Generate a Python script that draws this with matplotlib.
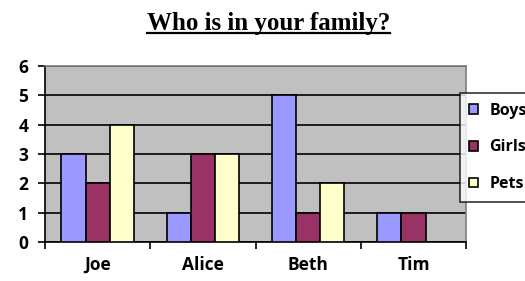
import numpy as np
import matplotlib.pyplot as plt
from matplotlib.lines import Line2D

# Data
categories = ["Joe", "Alice", "Beth", "Tim"]
boys = [3, 1, 5, 1]
girls = [2, 3, 1, 1]
pets = [4, 3, 2, 0]
series_names = ["Boys", "Girls", "Pets"]
series_colors = ["#9999FF", "#993366", "#FFFFCC"]

fig = plt.figure(figsize=(5.25, 2.81), dpi=100)
ax = fig.add_axes([0.0857, 0.1388, 0.802, 0.626])
ax.set_facecolor("#C0C0C0")

x = np.arange(len(categories))
w = 0.23
for i, (vals, name, col) in enumerate(zip([boys, girls, pets], series_names, series_colors)):
    ax.bar(x + (i - 1) * w, vals, width=w, color=col, edgecolor="black",
           linewidth=1.2, label=name, zorder=3)

ax.set_xlim(-0.5, 3.5)
ax.set_ylim(0, 6)
ax.set_yticks(range(7))
ax.yaxis.grid(True, color="black", linewidth=1.2, zorder=1)
ax.set_axisbelow(True)

# x ticks at category boundaries, labels at centres
ax.set_xticks(np.arange(-0.5, 4.0, 1.0))
ax.set_xticklabels([])
ax.set_xticks(x, minor=True)
ax.set_xticklabels(categories, minor=True)
ax.tick_params(axis="x", which="minor", length=0, pad=10)
ax.tick_params(axis="x", which="major", length=5, width=1.2, direction="out")
ax.tick_params(axis="y", length=5, width=1.2, direction="out", pad=7)
for lab in ax.get_xticklabels(minor=True) + ax.get_yticklabels():
    lab.set_fontfamily("Open Sans")
    lab.set_fontweight("bold")
    lab.set_fontsize(12.5)

for side in ["left", "bottom"]:
    ax.spines[side].set_color("black")
    ax.spines[side].set_linewidth(1.2)
for side in ["top", "right"]:
    ax.spines[side].set_color("#808080")
    ax.spines[side].set_linewidth(1.2)

leg = fig.legend(loc="upper left", bbox_to_anchor=(0.876, 0.669),
                 frameon=True, fancybox=False, edgecolor="black",
                 prop={"family": "Open Sans", "weight": "bold", "size": 11.5},
                 handlelength=0.55, handleheight=0.55, handletextpad=0.7,
                 labelspacing=1.3, borderpad=0.6, borderaxespad=0)
leg.get_frame().set_linewidth(1.2)
for h in leg.legend_handles:
    h.set_linewidth(1.2)

title = fig.text(0.511, 0.893, "Who is in your family?", ha="center", va="baseline",
                 family="Liberation Serif", weight="bold", fontsize=18)
fig.canvas.draw()
bb = title.get_window_extent().transformed(fig.transFigure.inverted())
fig.add_artist(Line2D([bb.x0, bb.x1], [0.882, 0.882], color="black", linewidth=1.6,
                      transform=fig.transFigure))

fig.savefig("out.png", dpi=100)
